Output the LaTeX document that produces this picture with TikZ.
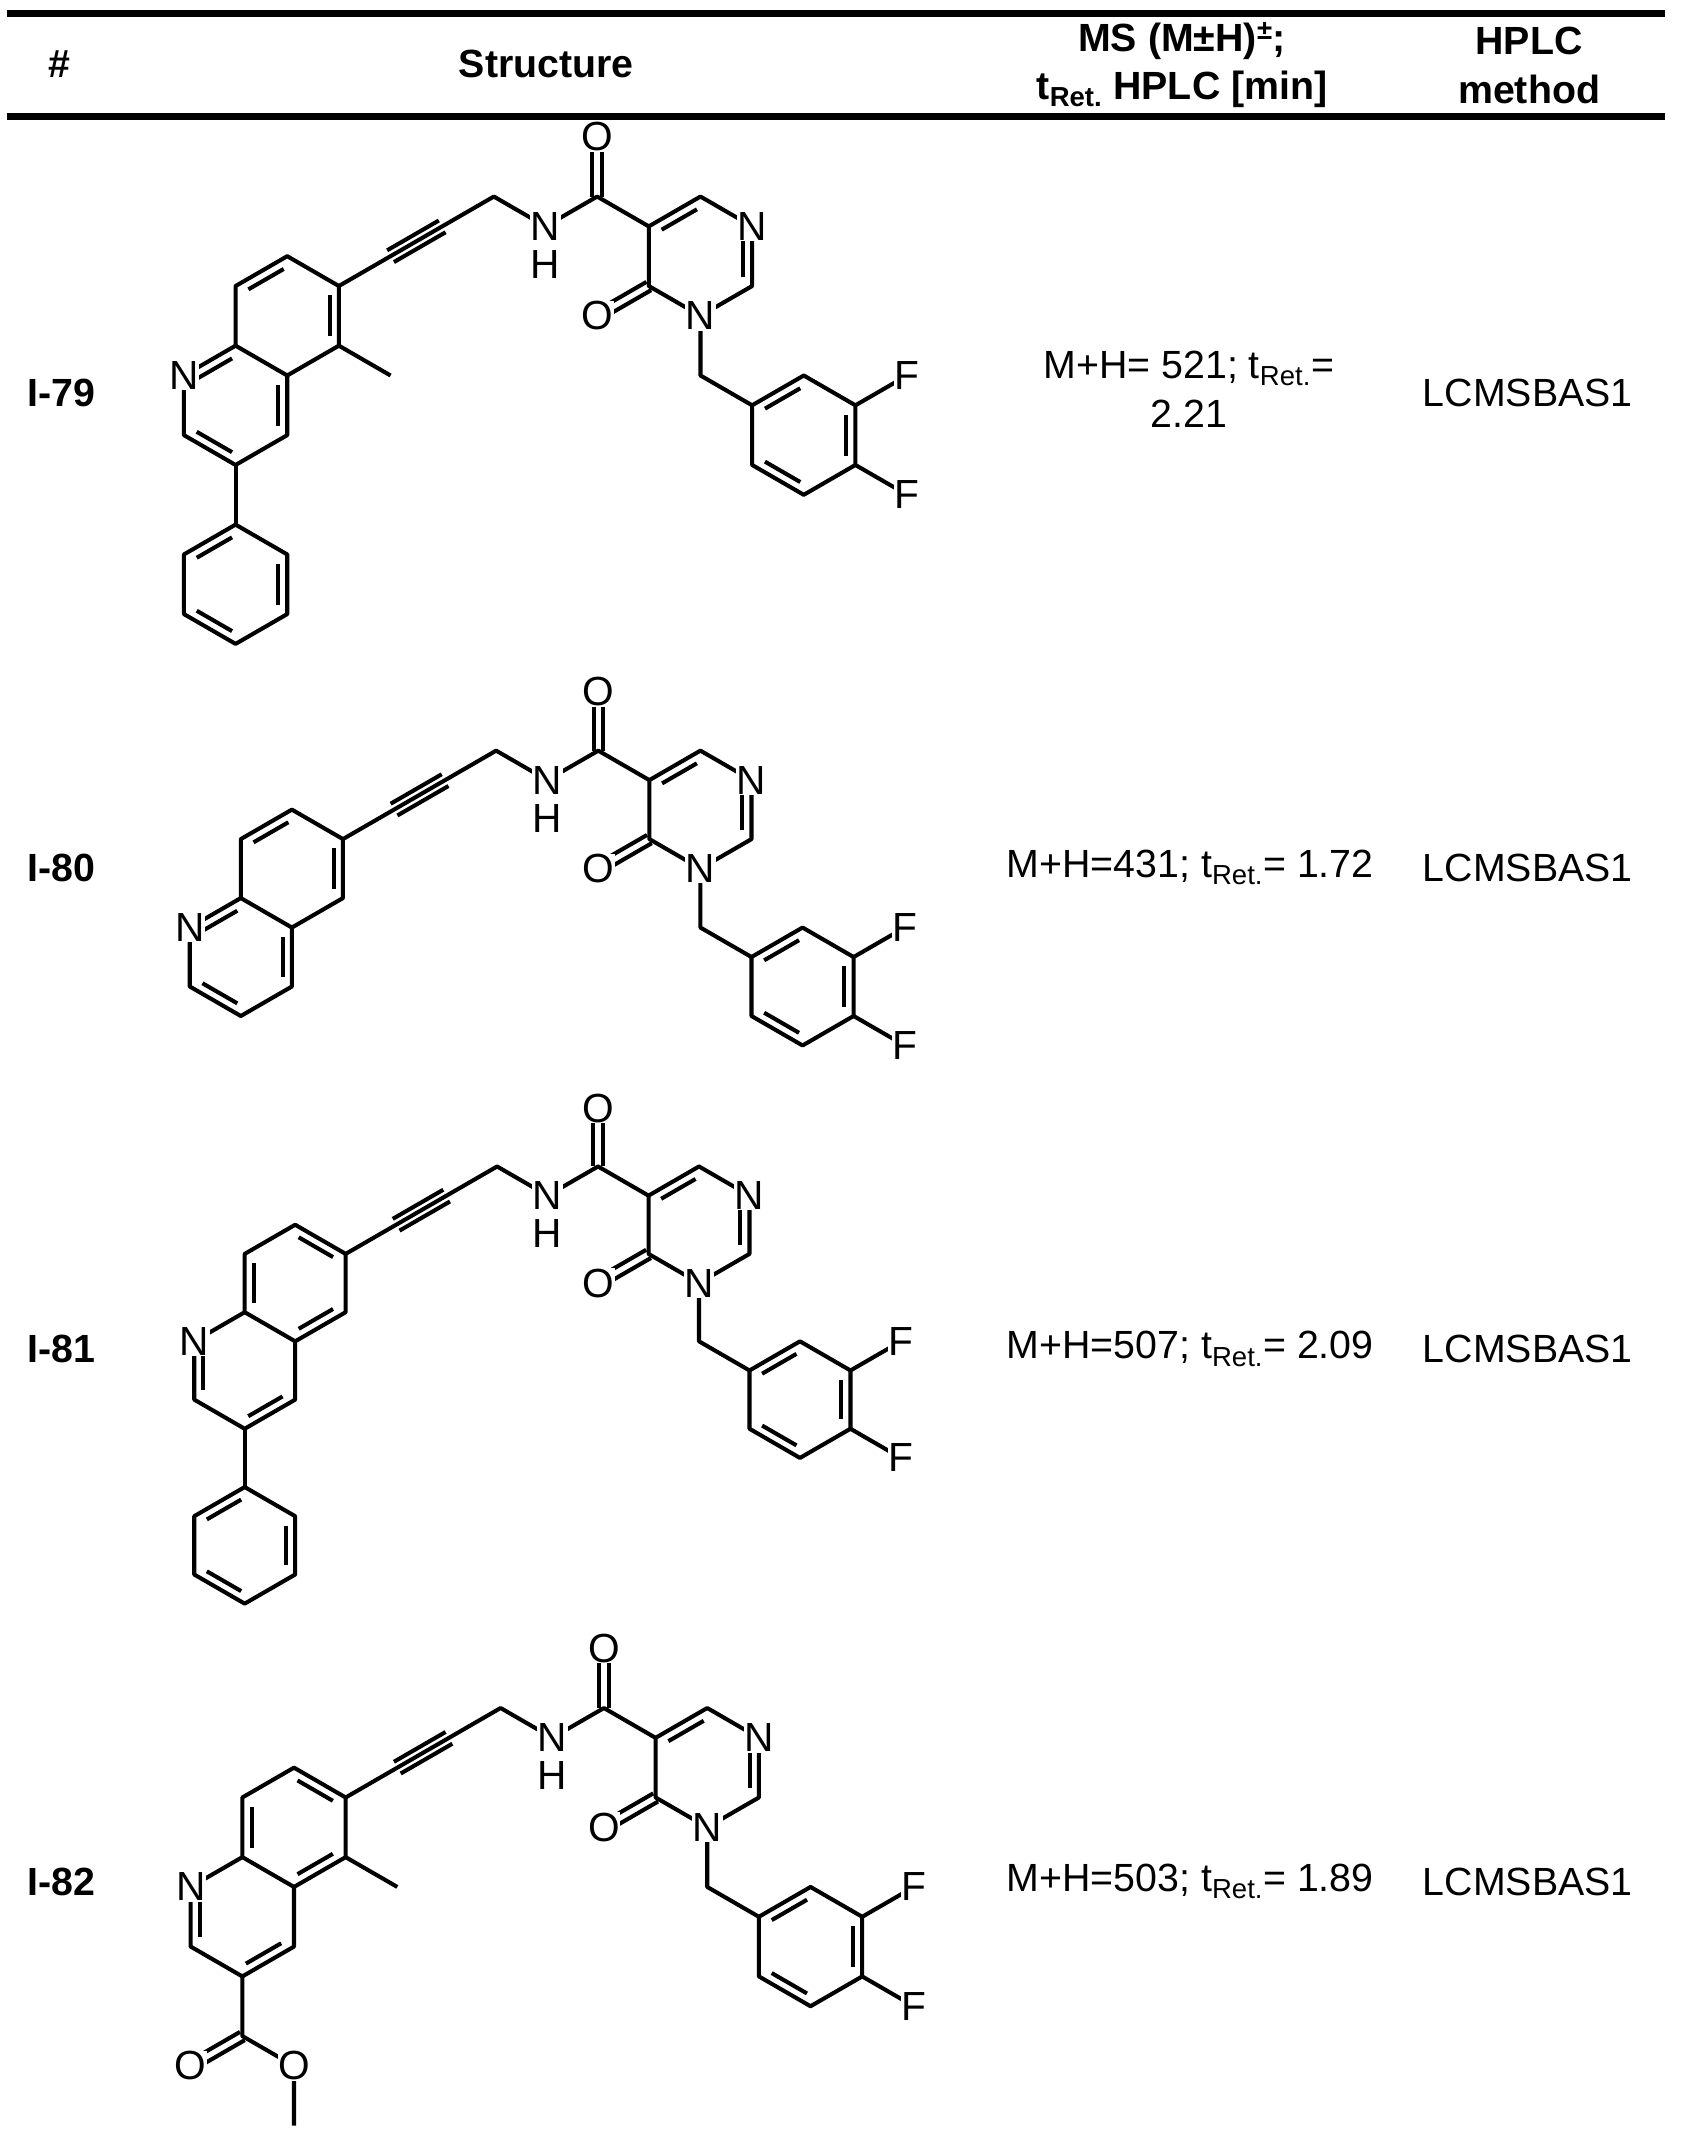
\documentclass[tikz,border=0pt]{standalone}
\usepackage{fontspec}
\setmainfont{Liberation Sans}
\usetikzlibrary{calc}
\newcommand\ib[3]{\draw[shorten <=3pt, shorten >=3pt] ($(#1)!0.18!(#3)$) -- ($(#2)!0.18!(#3)$);}
\newcommand\dbl[2]{\draw ($(#1)!3.5pt!90:(#2)$) -- ($(#2)!3.5pt!-90:(#1)$); \draw ($(#1)!3.5pt!-90:(#2)$) -- ($(#2)!3.5pt!90:(#1)$);}
\newcommand\pt[3]{\coordinate (#1) at ($(#2)+(#3:\bb)$);}
% core: #1 prefix, #2 x, #3 y, #4 bond length
\newcommand\core[4]{%
 \def\bb{#4}
 \coordinate (#1q6) at (#2,#3);
 \pt{#1q7}{#1q6}{210} \pt{#1q8}{#1q7}{150} \pt{#1q8a}{#1q8}{90}
 \pt{#1q4a}{#1q8a}{30} \pt{#1q5}{#1q4a}{330}
 \pt{#1n1}{#1q8a}{150} \pt{#1c2}{#1n1}{90} \pt{#1c3}{#1c2}{30} \pt{#1c4}{#1c3}{330}
 \pt{#1cb}{#1q8a}{330} \pt{#1cp}{#1c2}{330}
 \pt{#1a1}{#1q6}{330} \pt{#1a2}{#1a1}{330} \pt{#1ch}{#1a2}{330}
 \pt{#1nh}{#1ch}{30} \pt{#1cam}{#1nh}{330} \pt{#1oam}{#1cam}{270}
 \pt{#1p5}{#1cam}{30} \pt{#1p6}{#1p5}{330} \pt{#1pn1}{#1p6}{30} \pt{#1p2}{#1pn1}{90}
 \pt{#1pn3}{#1p2}{150} \pt{#1p4}{#1pn3}{210} \pt{#1ok}{#1p4}{150} \pt{#1pc}{#1p5}{30}
 \pt{#1bch}{#1pn3}{90} \pt{#1r1}{#1bch}{30} \pt{#1r2}{#1r1}{330} \pt{#1r3}{#1r2}{30}
 \pt{#1r4}{#1r3}{90} \pt{#1r5}{#1r4}{150} \pt{#1r6}{#1r5}{210} \pt{#1rc}{#1r1}{30}
 \pt{#1f1}{#1r3}{330} \pt{#1f2}{#1r4}{30}
 \draw (#1q6)--(#1q7)--(#1q8)--(#1q8a)--(#1q4a)--(#1q5)--cycle;
 \draw (#1q8a)--(#1n1)--(#1c2)--(#1c3)--(#1c4)--(#1q4a);
 \draw (#1q6)--(#1ch)--(#1nh)--(#1cam)--(#1p5);
 \draw (#1p5)--(#1p6)--(#1pn1)--(#1p2)--(#1pn3)--(#1p4)--cycle;
 \draw ($(#1a1)!5pt!90:(#1a2)$) -- ($(#1a2)!5pt!-90:(#1a1)$);
 \draw ($(#1a1)!5pt!-90:(#1a2)$) -- ($(#1a2)!5pt!90:(#1a1)$);
 \dbl{#1cam}{#1oam} \dbl{#1p4}{#1ok}
 \draw (#1pn3)--(#1bch)--(#1r1);
 \draw (#1r1)--(#1r2)--(#1r3)--(#1r4)--(#1r5)--(#1r6)--cycle;
 \draw (#1r3)--(#1f1) (#1r4)--(#1f2);
 \ib{#1p5}{#1p6}{#1pc} \ib{#1pn1}{#1p2}{#1pc}
 \ib{#1r1}{#1r2}{#1rc} \ib{#1r3}{#1r4}{#1rc} \ib{#1r5}{#1r6}{#1rc}
}
\newcommand\labels[1]{%
 \node[atom] (#1Ln1) at (#1n1) {N};
 \node[atom] (#1Lnh) at (#1nh) {N};
 \node[atom] (#1Lh) at ($(#1nh)+(0,28)$) {H};
 \node[atom] (#1Lo1) at (#1oam) {O};
 \node[atom] (#1Lo2) at (#1ok) {O};
 \node[atom] (#1Lpn1) at (#1pn1) {N};
 \node[atom] (#1Lpn3) at (#1pn3) {N};
 \node[atom] (#1Lf1) at (#1f1) {F};
 \node[atom] (#1Lf2) at (#1f2) {F};
}
\newcommand\kekA[1]{\ib{#1q7}{#1q8}{#1cb} \ib{#1q6}{#1q5}{#1cb} \ib{#1n1}{#1q8a}{#1cp} \ib{#1q4a}{#1c4}{#1cp} \ib{#1c2}{#1c3}{#1cp}}
\newcommand\kekB[1]{\ib{#1q6}{#1q7}{#1cb} \ib{#1q5}{#1q4a}{#1cb} \ib{#1q8}{#1q8a}{#1cb} \ib{#1n1}{#1c2}{#1cp} \ib{#1c3}{#1c4}{#1cp}}
\newcommand\phenyl[1]{%
 \pt{#1h1}{#1c3}{90} \pt{#1h2}{#1h1}{30} \pt{#1h3}{#1h2}{90} \pt{#1h4}{#1h3}{150} \pt{#1h5}{#1h4}{210} \pt{#1h6}{#1h5}{270} \pt{#1hc}{#1h1}{90}
 \draw (#1c3)--(#1h1);
 \draw (#1h1)--(#1h2)--(#1h3)--(#1h4)--(#1h5)--(#1h6)--cycle;
 \ib{#1h6}{#1h1}{#1hc} \ib{#1h2}{#1h3}{#1hc} \ib{#1h4}{#1h5}{#1hc}
}
\begin{document}
\begin{tikzpicture}[x=1pt,y=-1pt,line width=3pt,line join=round,
  atom/.style={fill=white,inner sep=0.5pt,font=\fontsize{30}{31}\selectfont},
  hdr/.style={font=\bfseries\fontsize{29}{32}\selectfont},
  body/.style={font=\fontsize{29}{32}\selectfont},
  rowlab/.style={font=\bfseries\fontsize{29}{32}\selectfont}]
\useasboundingbox[fill=white] (0,0) rectangle (1240,1575);
\draw[line width=5pt] (5,10)--(1228,10);
\draw[line width=5pt] (5,86)--(1228,86);
\node[hdr] (h1) at (44,47) {\#};
\node[hdr] (h2) at (403,47) {Structure};
\node[hdr] (h3) at (872,30) {MS (M±H)\textsuperscript{±};};
\node[hdr] (h4) at (872,66) {t\textsubscript{Ret.} HPLC [min]};
\node[hdr] (h5) at (1128,30) {HPLC};
\node[hdr] (h6) at (1128,66) {method};
% I-79
\core{a}{250}{211}{44}
\kekA{a}
\def\bb{44}
\phenyl{a}
\pt{ame}{aq5}{30}
\draw (aq5)--(ame);
\labels{a}
\node[rowlab] (l1) at (45,290) {I-79};
\node[body] (m1a) at (877,272) {M+H= 521; t\textsubscript{Ret.}=};
\node[body] (m1b) at (877,305) {2.21};
\node[body] (k1) at (1127,290) {LCMSBAS1};
% I-80
\core{b}{253}{619}{43.5}
\kekA{b}
\labels{b}
\node[rowlab] (l2) at (45,640) {I-80};
\node[body] (m2) at (878,640) {M+H=431; t\textsubscript{Ret.}= 1.72};
\node[body] (k2) at (1127,640) {LCMSBAS1};
% I-81
\core{c}{255}{925}{43}
\kekB{c}
\def\bb{43}
\phenyl{c}
\labels{c}
\node[rowlab] (l3) at (45,995) {I-81};
\node[body] (m3) at (878,995) {M+H=507; t\textsubscript{Ret.}= 2.09};
\node[body] (k3) at (1127,995) {LCMSBAS1};
% I-82
\core{d}{255}{1326}{44}
\kekB{d}
\def\bb{44}
\pt{dec}{dc3}{90} \pt{deo1}{dec}{150} \pt{deo2}{dec}{30} \pt{dome}{deo2}{90}
\draw (dc3)--(dec)--(deo2)--(dome);
\dbl{dec}{deo1}
\pt{dme}{dq5}{30}
\draw (dq5)--(dme);
\labels{d}
\node[atom] (deo1L) at (deo1) {O};
\node[atom] (deo2L) at (deo2) {O};
\node[rowlab] (l4) at (45,1388) {I-82};
\node[body] (m4) at (878,1388) {M+H=503; t\textsubscript{Ret.}= 1.89};
\node[body] (k4) at (1127,1388) {LCMSBAS1};
\end{tikzpicture}
\end{document}
